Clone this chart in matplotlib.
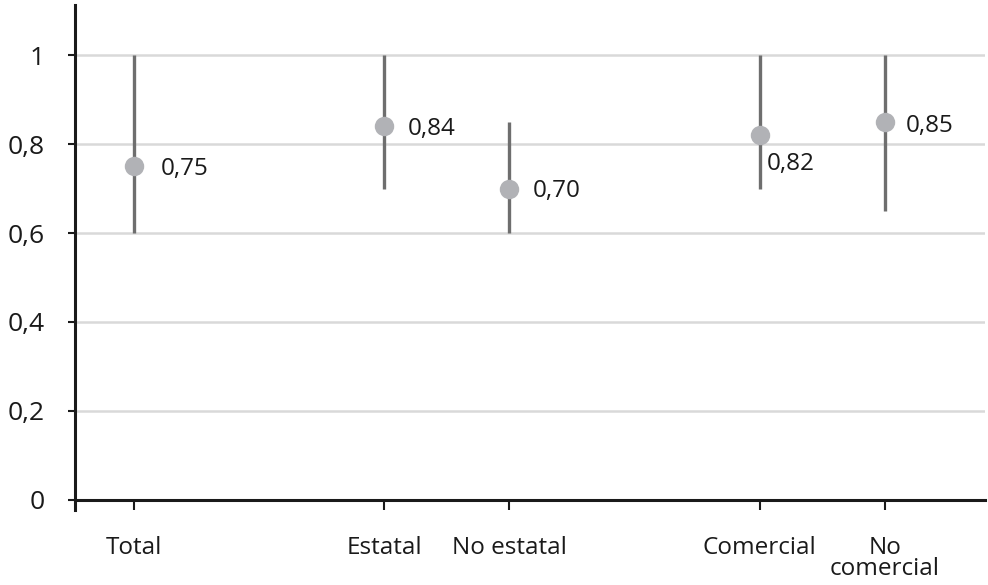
import matplotlib
matplotlib.use("Agg")
import matplotlib.pyplot as plt

categories = ['Total', 'Estatal', 'No estatal', 'Comercial', 'No\ncomercial']
values = [0.75, 0.84, 0.70, 0.82, 0.85]
lower = [0.60, 0.70, 0.60, 0.70, 0.65]
upper = [1.00, 1.00, 0.85, 1.00, 1.00]
value_labels = ['0,75', '0,84', '0,70', '0,82', '0,85']
yticks = [0, 0.2, 0.4, 0.6, 0.8, 1.0]
ytick_labels = ['0', '0,2', '0,4', '0,6', '0,8', '1']

# layout
xpos = [0, 2, 3, 5, 6]
label_offsets = [(19, -2), (17, -2), (17, -2), (5, -21), (15, -3)]

plt.rcParams['font.family'] = ['Open Sans', 'DejaVu Sans']

fig = plt.figure(figsize=(9.88, 5.85), dpi=100)
ax = fig.add_axes([75/988, 75/585, (985-75)/988, (510-5)/585])

ax.set_xlim(-0.472, 6.8)
ax.set_ylim(-0.0225, 1.1124)

for y in yticks[1:]:
    ax.axhline(y, color='#d9d9d9', lw=1.8, zorder=1)

for x, v, lo, hi, lab, off in zip(xpos, values, lower, upper, value_labels, label_offsets):
    ax.vlines(x, lo, hi, color='#6e6e6e', lw=2.4, zorder=2)
    ax.plot(x, v, 'o', ms=14, color='#b1b2b6', mec='none', zorder=3)
    ax.annotate(lab, (x, v), xytext=off, textcoords='offset points',
                ha='left', va='center', fontsize=17.5, color='#1a1a1a')

for s in ['top', 'right']:
    ax.spines[s].set_visible(False)
ax.spines['bottom'].set_position(('data', 0))
ax.spines['bottom'].set_color('#1a1a1a')
ax.spines['left'].set_color('#1a1a1a')
ax.spines['bottom'].set_linewidth(2.2)
ax.spines['left'].set_linewidth(2.2)

ax.set_yticks(yticks)
ax.set_yticklabels(ytick_labels, fontsize=19, color='#1a1a1a')
ax.tick_params(axis='y', length=5, width=1.5, pad=17, color='#1a1a1a')

ax.set_xticks(xpos)
ax.set_xticklabels(categories, fontsize=17.5, color='#1a1a1a', linespacing=0.85)
ax.tick_params(axis='x', length=7, width=1.5, pad=19, color='#1a1a1a', direction='out')

fig.savefig('out.png', dpi=100)
